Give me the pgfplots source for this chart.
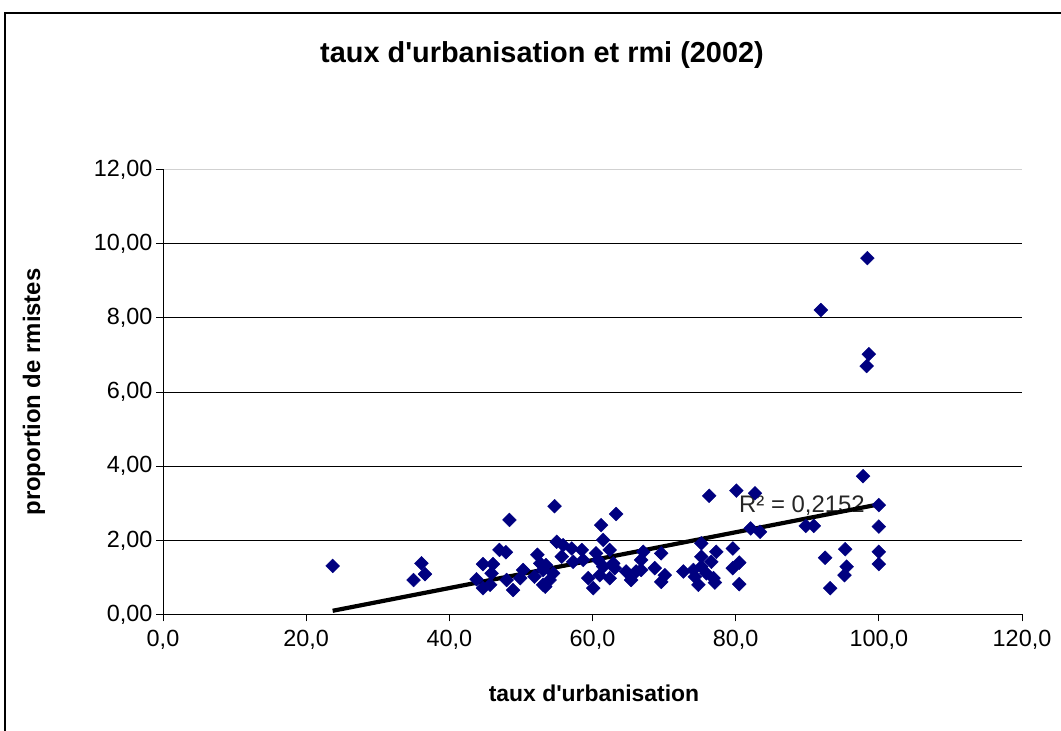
\documentclass[border=0pt]{standalone}
\usepackage{pgfplots}
\pgfplotsset{compat=1.18}
\usepackage{fontspec}
\setmainfont{Liberation Sans}
\definecolor{navy}{RGB}{0,0,128}
\begin{document}
\begin{tikzpicture}
\begin{axis}[
  at={(163bp,116.5bp)}, anchor=south west,
  scale only axis, width=859bp, height=445bp,
  xmin=0, xmax=120, ymin=0, ymax=12,
  axis lines*=left,
  axis line style={-, black, line width=0.8bp},
  xtick={0,20,...,120}, ytick={0,2,...,10},
  extra y ticks={12},
  extra y tick style={grid style={black!18, line width=0.7bp}},
  ymajorgrids,
  grid style={black, line width=0.7bp},
  tick align=outside, major tick length=7bp,
  tick style={black, line width=0.8bp},
  /pgf/number format/assume math mode=true,
  x tick label style={yshift=-5bp, /pgf/number format/.cd, fixed, fixed zerofill, precision=1, use comma, /tikz/.cd},
  y tick label style={/pgf/number format/.cd, fixed, fixed zerofill, precision=2, use comma, /tikz/.cd},
  ticklabel style={font=\fontsize{23.5}{28}\selectfont},
  set layers, clip=false,
]
\node[on layer=axis grid, anchor=base west, font=\fontsize{24}{28}\selectfont, text=black!85] at (axis cs:80.0,2.76) {R² = 0,2152};
\addplot[only marks, mark=square*, mark size=4.9bp, mark options={rotate=45, fill=navy, draw=navy}] coordinates {
(23.7,1.31) (35.0,0.93) (36.1,1.38) (36.6,1.09)
(43.8,0.95) (44.7,1.36) (44.7,0.71) (45.7,0.80) (45.9,1.11) (46.1,1.36)
(47.0,1.74) (47.9,1.68) (48.4,2.55) (48.0,0.93) (48.9,0.66) (49.9,0.98)
(50.3,1.20) (51.9,1.02) (52.3,1.61) (52.7,1.38) (53.5,1.33) (53.1,0.80)
(53.4,0.75) (54.0,0.93) (53.1,1.20) (54.5,1.11) (54.7,2.92) (55.0,1.96)
(55.7,1.56) (55.9,1.87) (57.1,1.78) (57.3,1.42) (58.5,1.74) (58.7,1.47)
(59.4,0.98) (60.1,0.71) (60.8,1.47) (60.5,1.65) (61.2,2.41) (61.5,2.01)
(63.3,2.71) (62.4,1.74) (62.9,1.38) (61.0,1.06) (62.4,0.98) (63.1,1.25)
(61.5,1.29) (64.7,1.16) (65.4,0.93) (66.1,1.16) (66.8,1.47) (67.1,1.69)
(66.8,1.20) (68.7,1.25) (69.6,1.65) (70.1,1.06) (69.6,0.88) (72.7,1.16)
(74.1,1.20) (74.3,1.02) (74.8,0.80) (75.2,1.92) (75.2,1.56) (75.2,1.29)
(75.9,1.11) (76.9,0.98) (77.1,0.86) (77.3,1.69) (76.6,1.42) (79.6,1.78)
(80.5,1.40) (79.6,1.25) (80.5,0.82) (76.3,3.20) (80.1,3.34) (82.7,3.27)
(82.1,2.32) (83.4,2.23) (89.8,2.39) (90.9,2.39) (91.9,8.21) (92.5,1.53)
(93.2,0.71) (95.3,1.76) (95.5,1.29) (95.2,1.06) (97.8,3.73) (98.4,9.61)
(98.6,7.02) (98.3,6.70) (100.0,2.95) (100.0,2.37) (100.0,1.69) (100.0,1.36)
};
\addplot[black, line width=4.2bp, no marks] coordinates {(23.7,0.10) (100.0,2.97)};
\end{axis}
\node[anchor=base, font=\bfseries\fontsize{29}{34}\selectfont] at (542bp,668bp) {taux d\textquotesingle urbanisation et rmi (2002)};
\node[anchor=base, font=\bfseries\fontsize{23}{28}\selectfont] at (594bp,30bp) {taux d\textquotesingle urbanisation};
\node[rotate=90, anchor=base, font=\bfseries\fontsize{24}{28}\selectfont] at (40bp,339bp) {proportion de rmistes};
\pgfresetboundingbox
\useasboundingbox (0bp,0bp) rectangle (1061bp,731bp);
\draw[line width=1.5bp] (5bp,-10bp) -- (5bp,718bp) -- (1080bp,718bp);
\end{tikzpicture}
\end{document}
